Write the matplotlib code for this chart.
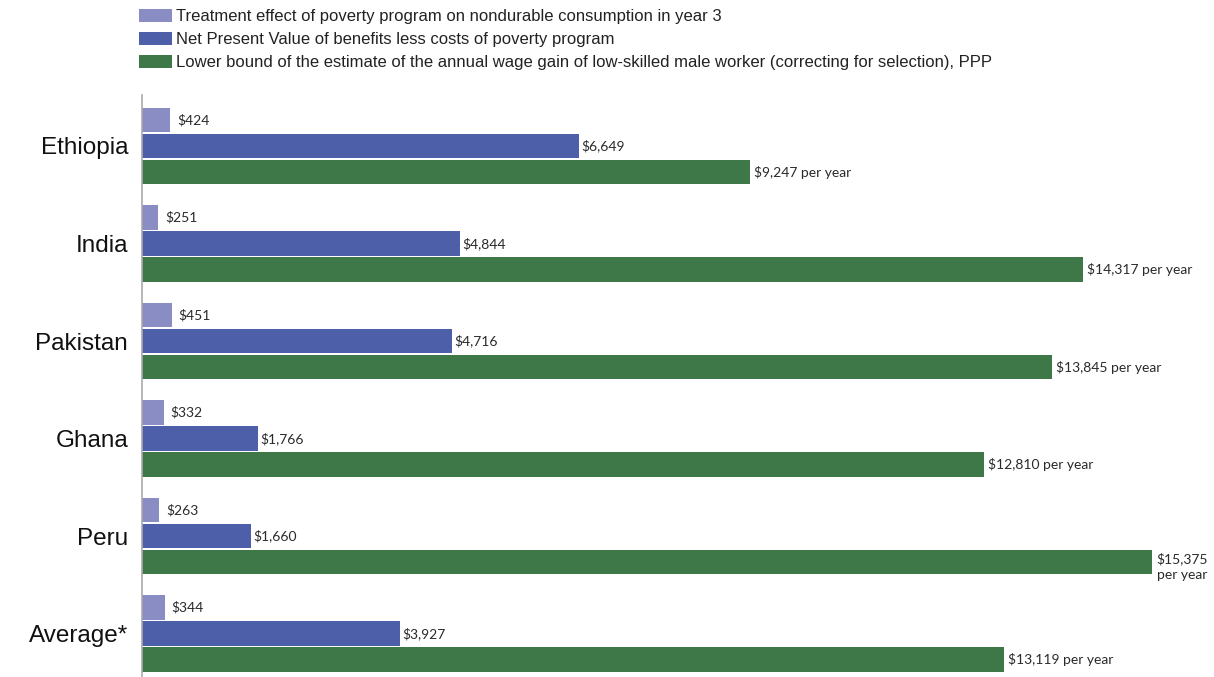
import numpy as np
import matplotlib.pyplot as plt

# data
countries = ['Ethiopia', 'India', 'Pakistan', 'Ghana', 'Peru', 'Average*']
consumption = [424, 251, 451, 332, 263, 344]
npv = [6649, 4844, 4716, 1766, 1660, 3927]
wage_gain = [9247, 14317, 13845, 12810, 15375, 13119]

series_names = [
    'Treatment effect of poverty program on nondurable consumption in year 3',
    'Net Present Value of benefits less costs of poverty program',
    'Lower bound of the estimate of the annual wage gain of low-skilled male worker (correcting for selection), PPP',
]
colors = ['#8a8cc4', '#4d5fa9', '#3e7748']

fig = plt.figure(figsize=(12.14, 6.77), dpi=100)
ax = fig.add_axes([142 / 1214, 0.0, 1 - 142 / 1214, 1 - 95 / 677])

y = np.arange(len(countries))
off = 0.267
h = 0.248

b1 = ax.barh(y - off, consumption, height=h, color=colors[0], label=series_names[0])
b2 = ax.barh(y, npv, height=h, color=colors[1], label=series_names[1])
b3 = ax.barh(y + off, wage_gain, height=h, color=colors[2], label=series_names[2])

lab_font = dict(family=['Lato', 'DejaVu Sans'], fontsize=10, color='#2a2a2a')
for i in range(len(countries)):
    ax.annotate(f'${consumption[i]:,}', (consumption[i], y[i] - off), xytext=(5, 0),
                textcoords='offset points', va='center', ha='left', **lab_font)
    ax.annotate(f'${npv[i]:,}', (npv[i], y[i]), xytext=(1.5, 0),
                textcoords='offset points', va='center', ha='left', **lab_font)
    if countries[i] == 'Peru':
        ax.annotate(f'${wage_gain[i]:,}\nper year', (wage_gain[i], y[i] + off), xytext=(3, 7),
                    textcoords='offset points', va='top', ha='left', multialignment='right',
                    linespacing=1.35, **lab_font)
    else:
        ax.annotate(f'${wage_gain[i]:,} per year', (wage_gain[i], y[i] + off), xytext=(3, 0),
                    textcoords='offset points', va='center', ha='left', **lab_font)

ax.set_xlim(0, 1072 * 15.22)
ax.set_ylim(5.446, -0.523)
ax.set_yticks(y)
ax.set_yticklabels(countries, family=['Liberation Sans', 'DejaVu Sans'], fontsize=17.5, color='#111111')
ax.tick_params(axis='y', length=0, pad=10)
ax.set_xticks([])
for s in ['top', 'right', 'bottom']:
    ax.spines[s].set_visible(False)
ax.spines['left'].set_color('#aaaaaa')
ax.spines['left'].set_linewidth(1.2)

leg = fig.legend(handles=[b1, b2, b3], loc='upper left', bbox_to_anchor=(139 / 1214, 1 - 9 / 677),
                 frameon=False, handlelength=2.0, handleheight=0.85, handletextpad=0.25,
                 labelspacing=0.45, borderaxespad=0, borderpad=0,
                 prop={'family': ['Liberation Sans', 'DejaVu Sans'], 'size': 12})
for t in leg.get_texts():
    t.set_color('#222222')

fig.savefig('out.png', dpi=100)
